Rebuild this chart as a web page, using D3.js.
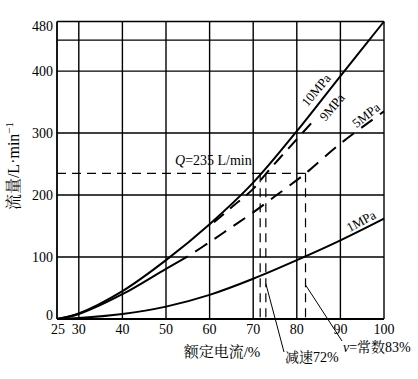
<!DOCTYPE html>
<html><head><meta charset="utf-8">
<script src="https://cdn.jsdelivr.net/npm/d3@7/dist/d3.min.js"></script>
<style>body{margin:0;background:#fff}svg{display:block}</style>
</head><body>
<script>
// ---- data ----
const xTicks = [25,30,40,50,60,70,80,90,100];
const yTicks = [0,100,200,300,400,480];
const yGrid = [100,200,300,400,450,480];
const xGrid = [30,40,50,60,70,80,90,100];

const tenX = [25,30,40,50,60,70,80,90,100];
const tenY = [0,9,45,95,153,220,303,392,480];

const nineX = [61,65,70,73,76,80,83.7];
const nineY = [156,180,210,235,259,290,319];

const fiveSolidX = [25,30,40,50,55];
const fiveSolidY = [0,8,40,81,101];
const fiveDashX = [55,60,65,70,75,80,82,90,100];
const fiveDashY = [101,124,148,172,198,224,235,283,335];

const oneX = [25,30,40,50,60,70,80,90,100];
const oneY = [0,1.5,8,20,39,65,95,127,162];

const qFlow = 235;
const qCross = [71.6,72.9,82];

const W = 418, H = 379;
const svg = d3.select("body").append("svg").attr("width",W).attr("height",H);
const x = d3.scaleLinear().domain([25,100]).range([57,384]);
const y = d3.scaleLinear().domain([0,480]).range([319,21.5]);
const serif = "'Liberation Serif','Times New Roman',serif";
const cjk = "'Liberation Serif','Noto Serif CJK SC','Noto Sans CJK SC',serif";

const g = svg.append("g");
// grid
g.selectAll(".hg").data(yGrid).join("line")
  .attr("x1",x(25)).attr("x2",x(100)).attr("y1",d=>y(d)).attr("y2",d=>y(d))
  .attr("stroke","#000").attr("stroke-width",d=>d===450?1.1:1.4);
g.selectAll(".vg").data(xGrid).join("line")
  .attr("y1",y(0)).attr("y2",y(480)).attr("x1",d=>x(d)).attr("x2",d=>x(d))
  .attr("stroke","#000").attr("stroke-width",1.4);
// axes lines
g.append("line").attr("x1",x(25)).attr("x2",x(25)).attr("y1",y(0)).attr("y2",y(480)).attr("stroke","#000").attr("stroke-width",1.8);
g.append("line").attr("x1",x(25)).attr("x2",x(100)).attr("y1",y(0)).attr("y2",y(0)).attr("stroke","#000").attr("stroke-width",1.8);

// tick labels
g.selectAll(".xt").data(xTicks).join("text")
  .attr("x",d=>x(d)+(d===25?1:0)).attr("y",y(0)+15)
  .attr("text-anchor","middle").attr("font-family",serif).attr("font-size",14)
  .text(d=>d);
g.selectAll(".yt").data(yTicks).join("text")
  .attr("x",x(25)-4).attr("y",d=>y(d)+(d===480?5:d===0?-4:0))
  .attr("dy","0.35em")
  .attr("text-anchor","end").attr("font-family",serif).attr("font-size",14)
  .text(d=>d);

// Q dashed lines
g.append("line").attr("x1",x(25)).attr("x2",x(qCross[2])).attr("y1",y(qFlow)).attr("y2",y(qFlow))
  .attr("stroke","#000").attr("stroke-width",1.2).attr("stroke-dasharray","9,6");
g.selectAll(".qv").data(qCross).join("line")
  .attr("x1",d=>x(d)).attr("x2",d=>x(d)).attr("y1",y(qFlow)).attr("y2",y(0))
  .attr("stroke","#000").attr("stroke-width",1.2).attr("stroke-dasharray","9,6");

// curves
const line = d3.line().x(d=>x(d[0])).y(d=>y(d[1])).curve(d3.curveCatmullRom.alpha(0.5));
const zip = (a,b)=>a.map((v,i)=>[v,b[i]]);
function curve(xs,ys,dash,off){
  const p = g.append("path").datum(zip(xs,ys)).attr("d",line)
    .attr("fill","none").attr("stroke","#000").attr("stroke-width",2);
  if(dash) p.attr("stroke-dasharray",dash).attr("stroke-dashoffset",off||0);
}
curve(tenX,tenY);
curve(nineX,nineY,"13,8",0);
curve(fiveSolidX,fiveSolidY);
curve(fiveDashX,fiveDashY,"14,9",14);
curve(oneX,oneY);

// curve labels
function lab(t,cx,cy,rot){
  g.append("text").attr("transform",`translate(${cx},${cy}) rotate(${rot})`)
    .attr("text-anchor","middle").attr("dy","0.35em")
    .attr("font-family",serif).attr("font-size",13).text(t);
}
lab("10MPa",316,90,-50);
lab("9MPa",332,107,-50);
lab("5MPa",366,115,-38);
lab("1MPa",361,221,-28);

// Q label
const ql = g.append("text").attr("x",175).attr("y",165).attr("font-family",serif).attr("font-size",14);
ql.append("tspan").attr("font-style","italic").text("Q");
ql.append("tspan").text("=235 L/min");

// leader lines
g.append("line").attr("x1",x(72.9)).attr("y1",y(57)).attr("x2",284).attr("y2",352).attr("stroke","#000").attr("stroke-width",1);
g.append("line").attr("x1",x(82)).attr("y1",y(55)).attr("x2",342).attr("y2",341).attr("stroke","#000").attr("stroke-width",1);

g.append("text").attr("x",285).attr("y",362).attr("font-family",cjk).attr("font-size",14).text("减速72%");
const vl = g.append("text").attr("x",343).attr("y",352).attr("font-family",cjk).attr("font-size",14);
vl.append("tspan").attr("font-style","italic").text("v");
vl.append("tspan").text("=常数83%");

// axis titles
g.append("text").attr("x",222).attr("y",357).attr("text-anchor","middle").attr("font-family",cjk).attr("font-size",15).text("额定电流/%");
const yl = g.append("text").attr("transform","translate(19,166) rotate(-90)").attr("text-anchor","middle")
  .attr("font-family",cjk).attr("font-size",16);
yl.append("tspan").text("流量/L·min");
yl.append("tspan").attr("baseline-shift","super").attr("font-size",11).text("−1");
</script>
</body></html>
